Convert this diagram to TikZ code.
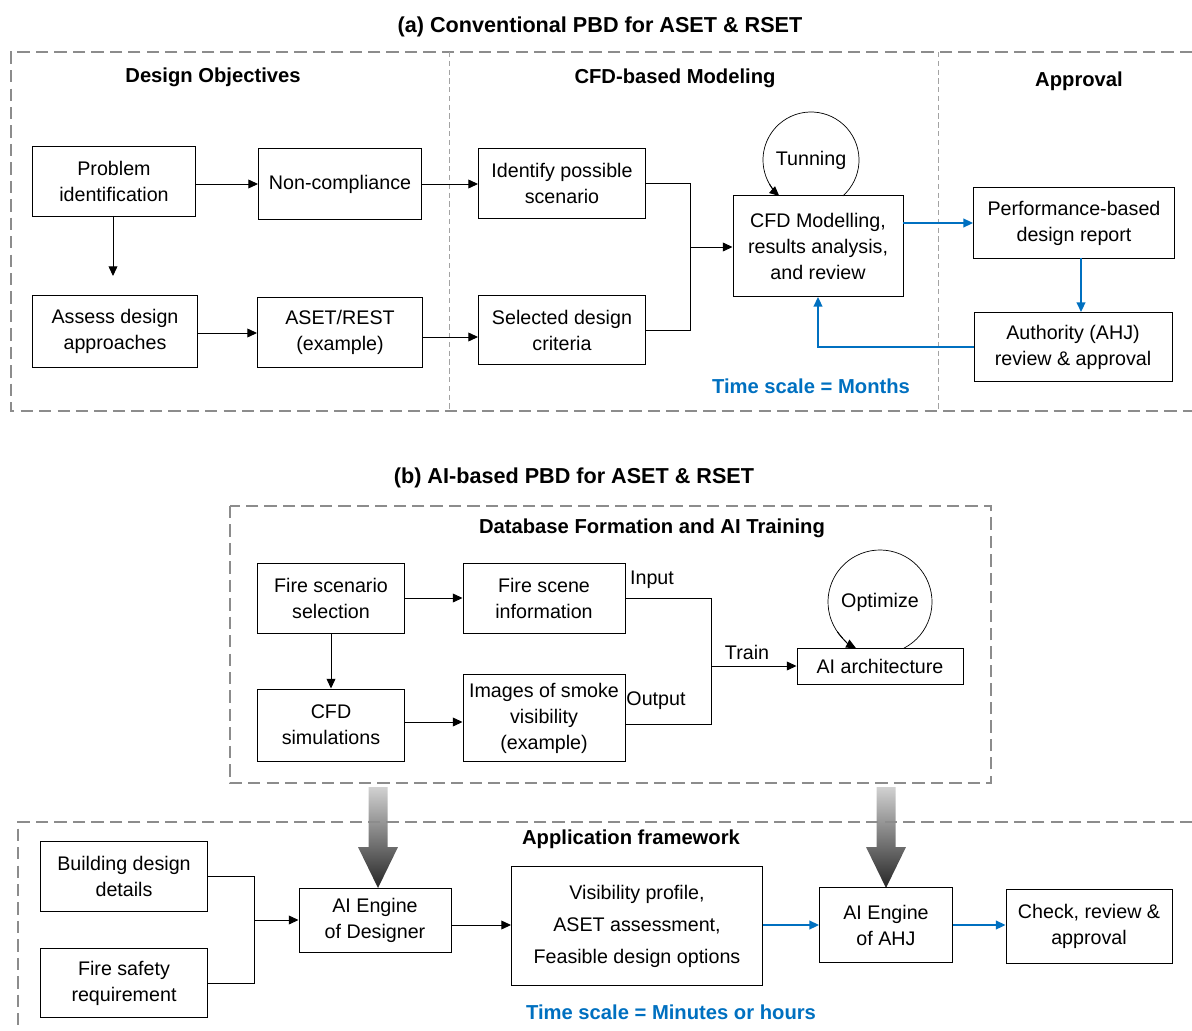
\documentclass[tikz,border=0pt]{standalone}
\usepackage{fontspec}
\setmainfont{Liberation Sans}
\usetikzlibrary{arrows.meta}
\definecolor{tsblue}{HTML}{0070C0}
\definecolor{dashgray}{HTML}{8C8C8C}
\tikzset{
  blk/.style 2 args={draw, line width=0.55pt, minimum width=#1*0.02cm,
    minimum height=#2*0.02cm, align=center, inner sep=0pt,
    font=\fontsize{11.2}{14.8}\selectfont},
  loopc/.style={circle, inner sep=0pt, font=\fontsize{11.2}{14.8}\selectfont},
  lbl/.style={inner sep=0pt, font=\fontsize{11.2}{14.8}\selectfont},
  hdr/.style={inner sep=0pt, font=\fontsize{11.5}{14}\selectfont\bfseries},
  ttl/.style={inner sep=0pt, font=\fontsize{12.3}{15}\selectfont\bfseries},
  tscale/.style={inner sep=0pt, text=tsblue, font=\fontsize{11.5}{14}\selectfont\bfseries},
  arr/.style={-{Triangle[length=5.5pt,width=5pt]}, line width=0.55pt},
  bluarr/.style={arr, draw=tsblue, line width=0.9pt},
  frame/.style={draw=dashgray, line width=1.1pt, dash pattern=on 7pt off 3.5pt},
  divider/.style={draw=dashgray!80, line width=0.5pt, dash pattern=on 3pt off 2pt},
  bigarr/.style={top color=black!18, bottom color=black!85, draw=none}
}

\begin{document}
\begin{tikzpicture}[x=0.02cm, y=-0.02cm]
\useasboundingbox (0,0) rectangle (1192,1030);

%%% (a) conventional

\node[ttl] (ttla) at (600,27) {(a) Conventional PBD for ASET \& RSET};
\draw[frame] (1192,52) -- (11,52) -- (11,411) -- (1192,411);
\draw[divider] (449,52) -- (449,411);
\draw[divider] (938,52) -- (938,411);

\node[hdr] (hobj) at (213,77) {Design Objectives};
\node[hdr] (hcfd) at (675,78) {CFD-based Modeling};
\node[hdr] (happ) at (1079,81) {Approval};

% design objectives
\node[blk={163}{70}] (prob) at (114,181) {Problem\\identification};
\node[blk={163}{71}] (nonc) at (340,184) {Non-compliance};
\node[blk={165}{72}] (asse) at (115,331) {Assess design\\approaches};
\node[blk={165}{70}] (aset) at (340,332) {ASET/REST\\(example)};

% cfd modeling
\node[blk={167}{70}] (iden) at (562,183) {Identify possible\\scenario};
\node[blk={167}{69}] (crit) at (562,330) {Selected design\\criteria};
\node[blk={170}{101}] (cfdm) at (818,246) {CFD Modelling,\\results analysis,\\and review};
\node[loopc] (tun) at (811,160) {Tunning};
\node[tscale] (tsa) at (811,386) {Time scale = Months};

% approval
\node[blk={201}{71}] (perf) at (1074,223) {Performance-based\\design report};
\node[blk={198}{69}] (auth) at (1073,347) {Authority (AHJ)\\review \& approval};

% links a
\draw[arr] (prob.east |- nonc) -- (nonc.west);
\draw[arr, shorten >=10.8pt] (113,216) -- (113,295);
\draw[arr] (asse.east |- 0,333) -- (aset.west |- 0,333);
\draw[arr] (nonc.east) -- (iden.west |- nonc);
\draw[arr] (aset.east |- 0,337) -- (crit.west |- 0,337);
\draw[line width=0.55pt] (iden.east) -- (690,183) -- (690,330) -- (crit.east);
\draw[arr] (690,247) -- (cfdm.west |- 0,247);
\draw (tun.center) ++(48.4:48) arc[start angle=48.4, end angle=-226, radius=48];
\draw[arr] (tun.center) ++(-210:48) arc[start angle=-210, end angle=-228.6, radius=48];
\draw[bluarr] (cfdm.east |- perf) -- (perf.west);
\draw[bluarr] (1081,258) -- (1081,312);
\draw[bluarr] (auth.west) -- (818,347) -- (cfdm.south);

%%% (b) ai-based

\node[ttl] (ttlb) at (574,478) {(b) AI-based PBD for ASET \& RSET};
\draw[frame] (230,506) rectangle (991,783);
\node[hdr] (hdb) at (652,528) {Database Formation and AI Training};

% database
\node[blk={147}{70}] (fsel) at (331,598) {Fire scenario\\selection};
\node[blk={162}{70}] (finf) at (544,598) {Fire scene\\information};
\node[blk={147}{72}] (csim) at (331,725) {CFD\\simulations};
\node[blk={162}{87}] (imgs) at (544,718) {Images of smoke\\visibility\\(example)};
\node[blk={166}{36}] (aiar) at (880,666) {AI architecture};
\node[loopc] (opt) at (880,602) {Optimize};
\node[lbl] (linp) at (652,580) {Input};
\node[lbl] (lout) at (656,701) {Output};
\node[lbl] (ltrn) at (747,652) {Train};

% links b
\draw[arr] (fsel.east) -- (finf.west);
\draw[arr] (fsel.south) -- (csim.north);
\draw[arr] (csim.east |- 0,722) -- (imgs.west |- 0,722);
\draw[line width=0.55pt] (finf.east) -- (711,598) -- (711,724) -- (imgs.east |- 0,724);
\draw[arr] (711,666) -- (aiar.west);
\draw (opt.center) ++(62.4:52) arc[start angle=62.4, end angle=-224, radius=52];
\draw[arr] (opt.center) ++(-215:52) arc[start angle=-215, end angle=-242.4, radius=52];

% big arrows
\shade[bigarr] (368.5,787) -- (387.5,787) -- (387.5,847) -- (398,847) -- (378,888)
  -- (358,847) -- (368.5,847) -- cycle;
\shade[bigarr] (876.5,787) -- (895.5,787) -- (895.5,847) -- (906,847) -- (886,888)
  -- (866,847) -- (876.5,847) -- cycle;

% application
\draw[frame] (1192,822) -- (18,822) -- (18,1030);
\node[hdr] (happl) at (631,839) {Application framework};
\node[blk={167}{70}] (bldg) at (124,876) {Building design\\details};
\node[blk={167}{69}] (fsaf) at (124,983) {Fire safety\\requirement};
\node[blk={152}{64}] (engd) at (375,920) {AI Engine\\of Designer};
\node[blk={251}{119}, font=\fontsize{11.2}{18.2}\selectfont] (visp) at (637,926)
  {Visibility profile,\\ASET assessment,\\Feasible design options};
\node[blk={133}{75}] (enga) at (886,925) {AI Engine\\of AHJ};
\node[blk={166}{74}] (chck) at (1089,926) {Check, review \&\\approval};
\node[tscale] (tsb) at (671,1012) {Time scale = Minutes or hours};

% links c
\draw[line width=0.55pt] (bldg.east) -- (254,876) -- (254,983) -- (fsaf.east);
\draw[arr] (254,920) -- (engd.west);
\draw[arr] (engd.east |- 0,925) -- (visp.west |- 0,925);
\draw[bluarr] (visp.east |- 0,925) -- (enga.west |- 0,925);
\draw[bluarr] (enga.east |- 0,925) -- (chck.west |- 0,925);

\end{tikzpicture}
\end{document}
